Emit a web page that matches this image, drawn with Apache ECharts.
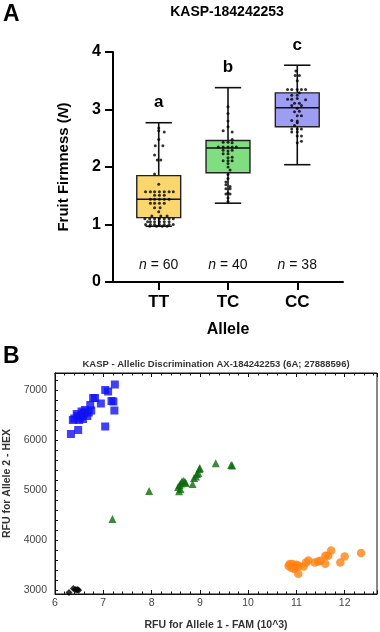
<!DOCTYPE html>
<html>
<head>
<meta charset="utf-8">
<title>KASP-184242253</title>
<script src="https://cdn.jsdelivr.net/npm/echarts@6/dist/echarts.min.js"></script>
<style>
    html, body { margin: 0; padding: 0; background: #fff; }
    #main { width: 380px; height: 632px; }
</style>
</head>
<body>
<div id="main"></div>
<script>
    // panel A: fruit firmness by allele
    var categories = ['TT', 'TC', 'CC'];
    // min, q1, median, q3, max
    var boxStats = [
        [0.97, 1.12, 1.44, 1.85, 2.77],
        [1.37, 1.90, 2.33, 2.46, 3.38],
        [2.04, 2.70, 3.03, 3.29, 3.77]
    ];
    var sigLetters = ['a', 'b', 'c'];
    var nCounts = [60, 40, 38];
    var yTicksA = [0, 1, 2, 3, 4];

    // individual fruits [jitter, firmness]
    var dotsTT = [
        [0.00, 2.68], [0.00, 2.63], [0.08, 2.61], [0.00, 2.48], [-0.05, 2.37], [0.06, 2.37],
        [-0.06, 2.21], [-0.02, 2.12], [0.03, 2.12], [-0.06, 1.88],
        [0.00, 1.70],
        [-0.19, 1.57], [-0.12, 1.57], [-0.06, 1.57], [0.01, 1.57], [0.08, 1.57], [0.15, 1.57], [0.21, 1.57],
        [-0.06, 1.51], [0.01, 1.51], [0.08, 1.51],
        [-0.12, 1.44], [-0.06, 1.44], [0.01, 1.44], [0.08, 1.44], [0.15, 1.44],
        [-0.12, 1.37], [-0.06, 1.37], [0.01, 1.37], [0.08, 1.37],
        [-0.06, 1.29], [0.02, 1.29], [0.00, 1.22],
        [-0.10, 1.15], [0.03, 1.15], [0.12, 1.15],
        [-0.20, 1.10], [-0.13, 1.10], [-0.06, 1.10], [0.01, 1.10], [0.08, 1.10], [0.15, 1.10], [0.21, 1.10],
        [-0.16, 1.05], [-0.12, 1.05], [-0.06, 1.05], [0.01, 1.05], [0.08, 1.05], [0.15, 1.05],
        [-0.19, 1.00], [-0.12, 1.00], [-0.06, 1.00], [0.01, 1.00], [0.08, 1.00], [0.15, 1.00], [0.21, 1.00],
        [-0.13, 0.97], [-0.03, 0.97], [0.05, 0.97], [0.12, 0.97]
    ];
    var dotsTC = [
        [0.00, 3.05], [0.00, 2.93], [0.00, 2.80], [0.00, 2.70], [-0.07, 2.63], [0.06, 2.61], [0.06, 2.48],
        [-0.07, 2.43], [0.00, 2.43], [0.06, 2.42],
        [-0.14, 2.35], [-0.07, 2.35], [0.00, 2.35], [0.06, 2.35], [0.12, 2.35],
        [-0.07, 2.29], [0.00, 2.28], [0.06, 2.29],
        [-0.07, 2.23], [0.00, 2.23], [0.00, 2.16], [0.06, 2.17],
        [-0.07, 2.11], [0.00, 2.11], [0.06, 2.11], [0.00, 2.06], [0.00, 2.00],
        [0.03, 1.95], [0.00, 1.87], [0.00, 1.80], [-0.03, 1.74], [-0.03, 1.69], [0.03, 1.66],
        [-0.03, 1.62], [0.03, 1.62], [0.00, 1.55], [-0.03, 1.53], [0.03, 1.53], [0.00, 1.46], [0.00, 1.40]
    ];
    var dotsCC = [
        [-0.02, 3.67], [-0.03, 3.59], [0.03, 3.59], [0.00, 3.50],
        [-0.14, 3.35], [-0.08, 3.35], [0.00, 3.35], [0.06, 3.35], [0.12, 3.35],
        [0.03, 3.29], [-0.08, 3.25], [0.00, 3.25],
        [-0.14, 3.18], [-0.08, 3.18], [0.00, 3.19], [0.12, 3.17],
        [-0.04, 3.11], [0.03, 3.11], [-0.08, 3.07], [0.06, 3.07], [0.00, 3.02],
        [-0.04, 2.96], [0.03, 2.97], [0.00, 2.89], [0.06, 2.89],
        [-0.08, 2.81], [0.00, 2.80], [0.00, 2.77], [-0.04, 2.72],
        [-0.08, 2.66], [0.00, 2.66], [0.06, 2.66], [-0.08, 2.61], [0.00, 2.61],
        [0.00, 2.54], [0.06, 2.54], [0.06, 2.45], [0.00, 2.42]
    ];

    // panel B: allelic discrimination, [FAM (10^3), HEX]
    var xTicksB = [6, 7, 8, 9, 10, 11, 12];
    var yTicksB = [3000, 4000, 5000, 6000, 7000];
    var hexAllele = [
        [6.33, 6120], [6.37, 6400], [6.40, 6430], [6.48, 6200], [6.45, 6520], [6.47, 6480], [6.50, 6400],
        [6.52, 6450], [6.55, 6570], [6.56, 6500], [6.58, 6420], [6.60, 6540], [6.62, 6600], [6.67, 6480],
        [6.70, 6550], [6.73, 6700], [6.75, 6590], [6.79, 6840], [6.83, 6840], [6.95, 6730], [7.04, 7000],
        [7.10, 6970], [7.04, 6270], [7.17, 6780], [7.21, 6770], [7.23, 6590], [7.24, 7110]
    ];
    var hetero = [
        [7.19, 4420], [7.95, 4980], [8.57, 4975], [8.55, 5060], [8.58, 5100], [8.61, 5130], [8.63, 5170],
        [8.66, 5180], [8.69, 5165], [8.71, 5140], [8.60, 5020], [8.85, 5120], [8.88, 5240], [8.92, 5270],
        [8.94, 5320], [8.97, 5340], [8.99, 5420], [9.00, 5440], [9.33, 5535], [9.65, 5500], [9.67, 5490]
    ];
    var famAllele = [
        [10.84, 3480], [10.86, 3520], [10.90, 3440], [10.92, 3520], [10.96, 3420], [10.97, 3480],
        [11.01, 3505], [11.04, 3325], [11.05, 3480], [11.15, 3470], [11.20, 3550], [11.25, 3590],
        [11.38, 3550], [11.45, 3570], [11.50, 3585], [11.60, 3525], [11.60, 3685], [11.66, 3685],
        [11.72, 3790], [11.91, 3550], [12.00, 3670], [12.34, 3740]
    ];
    var ntc = [[6.29, 2950], [6.38, 3030], [6.42, 3010], [6.45, 3000], [6.49, 2995], [6.47, 3010]];

    var boxColors = ['#F9D66E', '#80DE80', '#9D9DF4'];
    var font = 'Liberation Sans, Arial, sans-serif';

    // box rows: [position, min, q1, median, q3, max]
    var boxData = boxStats.map(function (s, i) {
        return [i + 1].concat(s);
    });
    var dotData = [];
    [dotsTT, dotsTC, dotsCC].forEach(function (arr, i) {
        arr.forEach(function (d) { dotData.push([i + 1 + d[0], d[1]]); });
    });

    function renderBox(params, api) {
        var i = params.dataIndex;
        var pos = api.value(0);
        var pMin = api.coord([pos, api.value(1)]);
        var pQ1 = api.coord([pos, api.value(2)]);
        var pMed = api.coord([pos, api.value(3)]);
        var pQ3 = api.coord([pos, api.value(4)]);
        var pMax = api.coord([pos, api.value(5)]);
        var halfW = api.size([0.317, 0])[0];
        var capW = api.size([0.19, 0])[0];
        var lineStyle = { stroke: '#111', lineWidth: 1.6 };
        var letterPos = api.coord([pos, api.value(5) + 0.35]);
        var nPos = api.coord([pos, 0.3]);
        var cx = pMed[0];
        return {
            type: 'group',
            children: [
                { type: 'line', shape: { x1: cx, y1: pMin[1], x2: cx, y2: pQ1[1] }, style: lineStyle },
                { type: 'line', shape: { x1: cx, y1: pQ3[1], x2: cx, y2: pMax[1] }, style: lineStyle },
                { type: 'line', shape: { x1: cx - capW, y1: pMin[1], x2: cx + capW, y2: pMin[1] }, style: lineStyle },
                { type: 'line', shape: { x1: cx - capW, y1: pMax[1], x2: cx + capW, y2: pMax[1] }, style: lineStyle },
                {
                    type: 'rect',
                    shape: { x: cx - halfW, y: pQ3[1], width: halfW * 2, height: pQ1[1] - pQ3[1] },
                    style: { fill: boxColors[i], stroke: '#222', lineWidth: 1.4 }
                },
                { type: 'line', shape: { x1: cx - halfW, y1: pMed[1], x2: cx + halfW, y2: pMed[1] }, style: lineStyle },
                {
                    type: 'text',
                    style: {
                        x: letterPos[0], y: letterPos[1], text: sigLetters[i],
                        align: 'center', verticalAlign: 'middle',
                        font: 'bold 17px ' + font, fill: '#000'
                    }
                },
                {
                    type: 'text',
                    style: {
                        x: nPos[0], y: nPos[1], text: '{i|n} = ' + nCounts[i],
                        align: 'center', verticalAlign: 'middle',
                        font: '14px ' + font, fill: '#111',
                        rich: { i: { fontStyle: 'italic', fontSize: 14, fontFamily: font } }
                    }
                }
            ]
        };
    }

    function rangeStep(a, b, step) {
        var out = [];
        for (var v = a; v <= b + 1e-9; v += step) out.push(Math.round(v * 1000) / 1000);
        return out;
    }

    var chart = echarts.init(document.getElementById('main'), null, { renderer: 'canvas' });

    var option = {
        animation: false,
        backgroundColor: '#fff',
        textStyle: { fontFamily: font },
        title: [
            { text: 'A', left: 3, top: 3, padding: 0, textStyle: { fontSize: 23, fontWeight: 'bold', color: '#000', fontFamily: font } },
            { text: 'KASP-184242253', left: 227, top: 5, padding: 0, textAlign: 'center', textStyle: { fontSize: 14, fontWeight: 'bold', color: '#000', fontFamily: font } },
            { text: 'B', left: 3, top: 345, padding: 0, textStyle: { fontSize: 23, fontWeight: 'bold', color: '#000', fontFamily: font } },
            { text: 'KASP - Allelic Discrimination AX-184242253 (6A; 27888596)', left: 216, top: 359, padding: 0, textAlign: 'center', textStyle: { fontSize: 9.5, fontWeight: 'bold', color: '#333', fontFamily: font } }
        ],
        grid: [
            { left: 113, right: 37, top: 52, bottom: 350, outerBoundsMode: 'none' },
            { left: 55, right: 3, top: 373, bottom: 38, outerBoundsMode: 'none', show: true, borderColor: '#111', borderWidth: 1, backgroundColor: '#fff' }
        ],
        xAxis: [
            {
                gridIndex: 0, type: 'value', min: 0.34, max: 3.66,
                name: 'Allele', nameLocation: 'middle', nameGap: 40,
                nameTextStyle: { fontSize: 16, fontWeight: 'bold', color: '#000' },
                axisLine: { lineStyle: { color: '#000', width: 2 } },
                axisTick: { customValues: [1, 2, 3], length: 8, lineStyle: { color: '#000', width: 2 } },
                axisLabel: {
                    customValues: [1, 2, 3], margin: 12,
                    fontSize: 17, fontWeight: 'bold', color: '#000',
                    formatter: function (v) { return categories[Math.round(v) - 1]; }
                },
                splitLine: { show: false }
            },
            {
                gridIndex: 1, type: 'value', min: 6, max: 12.67, interval: 1,
                name: 'RFU for Allele 1 - FAM (10^3)', nameLocation: 'middle', nameGap: 26,
                nameTextStyle: { fontSize: 10.5, fontWeight: 'bold', color: '#333' },
                axisLine: { onZero: false, lineStyle: { color: '#111', width: 1 } },
                axisTick: { inside: true, length: 4, lineStyle: { color: '#111' } },
                minorTick: { show: true, splitNumber: 5, length: 2.5, lineStyle: { color: '#111' } },
                axisLabel: { margin: 4, fontSize: 10.5, color: '#444', showMaxLabel: false },
                splitLine: { show: false }
            },
            {
                gridIndex: 1, type: 'value', min: 6, max: 12.67, interval: 1, position: 'top',
                axisLine: { onZero: false, lineStyle: { color: '#111', width: 1 } },
                axisTick: { inside: true, length: 4, lineStyle: { color: '#111' } },
                minorTick: { show: true, splitNumber: 5, length: 2.5, lineStyle: { color: '#111' } },
                axisLabel: { show: false },
                splitLine: { show: false }
            }
        ],
        yAxis: [
            {
                gridIndex: 0, type: 'value', min: 0, max: 4, interval: 1,
                name: 'Fruit Firmness ({i|N})', nameLocation: 'middle', nameGap: 42,
                nameTextStyle: {
                    fontSize: 15, fontWeight: 'bold', color: '#000',
                    rich: { i: { fontStyle: 'italic', fontWeight: 'bold', fontSize: 15, color: '#000' } }
                },
                axisLine: { show: true, lineStyle: { color: '#000', width: 2 } },
                axisTick: { show: true, length: 8, lineStyle: { color: '#000', width: 2 } },
                axisLabel: { margin: 12, fontSize: 16, fontWeight: 'bold', color: '#000' },
                splitLine: { show: false }
            },
            {
                gridIndex: 1, type: 'value', min: 2920, max: 7340,
                name: 'RFU for Allele 2 - HEX', nameLocation: 'middle', nameGap: 37,
                nameTextStyle: { fontSize: 10.5, fontWeight: 'bold', color: '#333' },
                axisLine: { show: true, onZero: false, lineStyle: { color: '#111', width: 1 } },
                axisTick: { show: true, inside: true, length: 3, customValues: rangeStep(3000, 7200, 200), lineStyle: { color: '#111' } },
                axisLabel: {
                    customValues: yTicksB, margin: 8, fontSize: 10.5, color: '#444',
                    formatter: function (v) { return String(v); }
                },
                splitLine: { show: false }
            }
        ],
        series: [
            {
                type: 'custom', xAxisIndex: 0, yAxisIndex: 0,
                renderItem: renderBox,
                encode: { x: 0, y: [1, 2, 3, 4, 5] },
                data: boxData, z: 2
            },
            {
                type: 'scatter', xAxisIndex: 0, yAxisIndex: 0,
                symbolSize: 3, itemStyle: { color: '#000' },
                data: dotData, z: 3
            },
            {
                type: 'scatter', xAxisIndex: 1, yAxisIndex: 1, symbol: 'rect', symbolSize: 8,
                itemStyle: { color: '#1010F5' }, data: hexAllele
            },
            {
                type: 'scatter', xAxisIndex: 1, yAxisIndex: 1, symbol: 'triangle', symbolSize: 8,
                itemStyle: { color: '#0B6B0B' }, data: hetero
            },
            {
                type: 'scatter', xAxisIndex: 1, yAxisIndex: 1, symbol: 'circle', symbolSize: 8.5,
                itemStyle: { color: '#FF8212' }, data: famAllele
            },
            {
                type: 'scatter', xAxisIndex: 1, yAxisIndex: 1, symbol: 'diamond', symbolSize: 7,
                itemStyle: { color: '#000' }, data: ntc
            }
        ]
    };

    chart.setOption(option);
</script>
</body>
</html>
